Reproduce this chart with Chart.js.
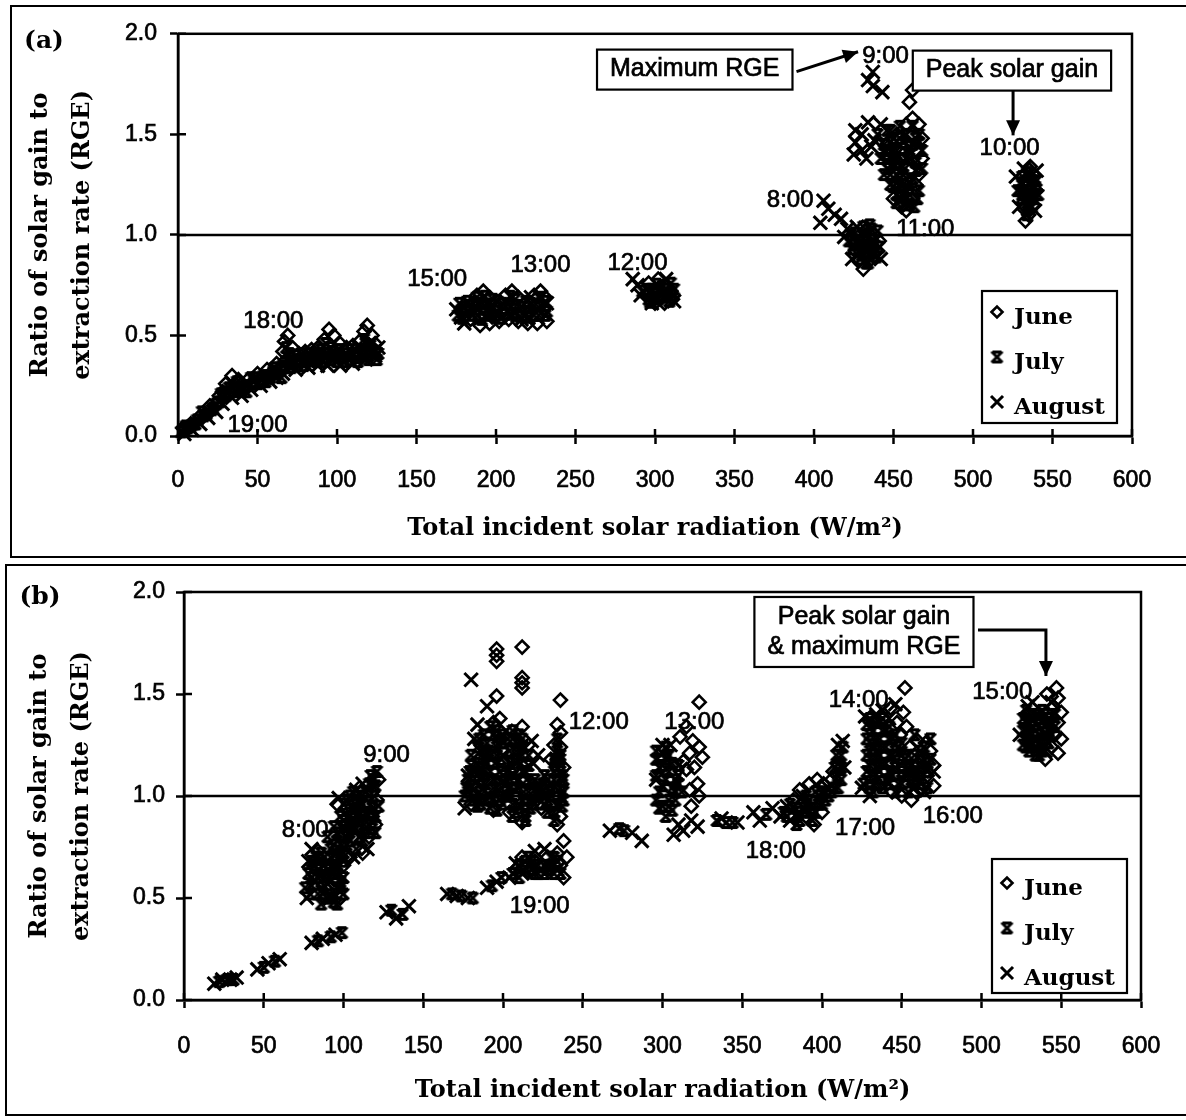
<!DOCTYPE html>
<html lang="en">
<head>
<meta charset="UTF-8">
<title>Ratio of solar gain to extraction rate</title>
<script src="https://cdn.jsdelivr.net/npm/chart.js"></script>
<style>
  body { margin: 0; background: #fff; width: 1186px; height: 1120px; overflow: hidden; position: relative; }
  .panel { position: absolute; border: 2px solid #000; background: #fff; }
  #panelA { left: 10px; top: 5px; }
  #panelB { left: 5px; top: 564px; }
  canvas { display: block; }
</style>
</head>
<body>
<div class="panel" id="panelA"><canvas id="chartA" width="1178" height="549"></canvas></div>
<div class="panel" id="panelB"><canvas id="chartB" width="1184" height="548"></canvas></div>
<script>
// ---- panel (a): [radiation W/m2, RGE] ----
const juneA = [
  [3,0.04],[8,0.06],[14,0.1],[20,0.15],[26,0.2],[30,0.26],[34,0.3],[38,0.28],[44,0.28],[50,0.31],[56,0.33],[62,0.36],
  [66,0.42],[67,0.47],[69,0.5],[72,0.44],[76,0.41],[80,0.42],[84,0.43],[88,0.44],[92,0.48],[95,0.53],[98,0.5],[102,0.46],
  [106,0.44],[110,0.45],[114,0.47],[117,0.52],[119,0.55],[122,0.5],[124,0.46],
  [28,0.22],[36,0.26],[46,0.26],[58,0.31],[68,0.38],[78,0.37],[90,0.4],[100,0.41],[112,0.41],[120,0.43],
  [188,0.7],[192,0.72],[196,0.69],[206,0.7],[210,0.72],[214,0.69],[224,0.7],[228,0.72],[231,0.69],[178,0.62],[184,0.58],
  [190,0.55],[196,0.56],[202,0.57],[208,0.58],[214,0.57],[220,0.56],[226,0.56],[232,0.57],[186,0.66],[200,0.64],[218,0.66],[230,0.63],
  [296,0.76],[302,0.78],[306,0.75],[310,0.72],[300,0.66],[306,0.66],[311,0.68],[294,0.7],[304,0.7],
  [431,0.83],[428,0.87],[436,0.88],[440,0.92],[434,0.94],[426,0.92],[438,1.0],[432,1.02],[441,0.97],[430,0.98],
  [462,1.72],[460,1.66],[458,1.55],[462,1.58],[466,1.55],[468,1.48],[464,1.42],[468,1.38],[466,1.3],[464,1.25],[462,1.18],
  [458,1.12],[455,1.14],[460,1.32],[456,1.4],[452,1.5],[454,1.38],[458,1.28],[454,1.22],[450,1.18],[448,1.35],[462,1.5],[446,1.45],
  [533,1.07],[535,1.1],[538,1.15],[532,1.13],[536,1.2],[540,1.22],[534,1.27],[538,1.3],[536,1.34]
];
const julyA = [
  [2,0.02],[6,0.04],[10,0.06],[16,0.1],[22,0.14],[26,0.17],[30,0.2],[32,0.24],[36,0.22],[40,0.24],[44,0.25],[48,0.27],
  [52,0.28],[56,0.3],[60,0.32],[64,0.33],[68,0.34],[72,0.36],[76,0.38],[80,0.37],[84,0.38],[88,0.38],[92,0.39],[96,0.38],
  [100,0.37],[104,0.39],[108,0.38],[112,0.39],[116,0.4],[120,0.4],[124,0.42],[70,0.41],[86,0.41],[96,0.44],[108,0.43],[118,0.46],
  [4,0.03],[8,0.05],[12,0.08],[18,0.11],[24,0.16],[28,0.19],[34,0.24],[38,0.23],[42,0.25],[46,0.29],[50,0.26],[54,0.3],
  [58,0.29],[62,0.31],[66,0.35],[70,0.37],[74,0.4],[78,0.41],[82,0.39],[86,0.39],[90,0.43],[94,0.41],[98,0.4],[102,0.39],
  [106,0.41],[110,0.4],[114,0.41],[118,0.42],[122,0.43],[68,0.44],[93,0.46],[117,0.48],[120,0.38],[126,0.41],
  [5,0.05],[11,0.06],[15,0.12],[21,0.13],[27,0.21],[31,0.22],[37,0.27],[43,0.22],[49,0.29],[55,0.27],[61,0.34],[65,0.29],
  [71,0.34],[75,0.35],[79,0.35],[83,0.41],[87,0.37],[91,0.37],[97,0.42],[101,0.43],[105,0.37],[109,0.41],[113,0.37],
  [121,0.45],[125,0.38],
  [176,0.6],[180,0.64],[184,0.63],[188,0.6],[192,0.64],[196,0.62],[200,0.6],[204,0.66],[208,0.63],[212,0.61],[216,0.64],
  [220,0.62],[224,0.6],[228,0.65],[232,0.62],[182,0.67],[198,0.68],[212,0.68],[222,0.66],
  [179,0.585],[185,0.6],[191,0.58],[197,0.6],[203,0.585],[209,0.605],[215,0.595],[221,0.59],[227,0.6],[231,0.6],
  [177,0.66],[183,0.65],[189,0.66],[195,0.655],[201,0.67],[207,0.655],[213,0.65],[219,0.67],[225,0.655],[231,0.67],
  [188,0.69],[193,0.695],[209,0.695],[227,0.69],
  [292,0.72],[298,0.73],[304,0.74],[310,0.76],[296,0.68],[302,0.68],[308,0.7],[312,0.73],[300,0.71],
  [295,0.73],[299,0.69],[303,0.72],[307,0.73],[311,0.7],[297,0.665],[305,0.69],[309,0.67],[301,0.755],
  [422,0.97],[426,1.01],[430,0.9],[434,0.86],[438,0.95],[428,0.95],[436,1.03],[424,0.93],[432,0.97],[440,1.02],[433,0.91],
  [423,1.0],[427,0.97],[431,0.94],[435,0.91],[439,0.89],[425,0.95],[429,0.92],[433,1.0],[437,0.98],[441,0.94],[429,0.88],
  [433,0.86],[437,0.92],[435,1.05],[431,1.04],
  [440,1.5],[444,1.45],[448,1.52],[446,1.4],[450,1.35],[444,1.3],[448,1.25],[452,1.2],[456,1.15],[450,1.42],[454,1.48],
  [442,1.38],[446,1.33],[452,1.3],[456,1.25],[460,1.2],[458,1.38],[462,1.45],[466,1.5],
  [446,1.52],[450,1.48],[454,1.54],[458,1.5],[462,1.54],[466,1.46],[444,1.42],[448,1.46],[452,1.42],[456,1.46],[460,1.44],
  [464,1.48],[448,1.38],[452,1.36],[456,1.34],[460,1.38],[464,1.36],[468,1.42],[448,1.3],[452,1.26],[456,1.3],[460,1.26],
  [464,1.32],[468,1.33],[450,1.24],[454,1.28],[458,1.22],[462,1.28],[466,1.22],[465,1.18],[452,1.16],[456,1.19],[460,1.15],
  [458,1.18],[463,1.14],
  [530,1.18],[534,1.16],[538,1.18],[532,1.22],[536,1.25],[530,1.26],[540,1.27],[534,1.31],[541,1.2],[528,1.22],
  [531,1.2],[535,1.22],[539,1.24],[533,1.18],[537,1.14],[535,1.29],[531,1.29],[539,1.2],[533,1.24],[537,1.27],[535,1.13],[534,1.1]
];
const augustA = [
  [4,0.01],[9,0.03],[14,0.06],[19,0.09],[24,0.12],[28,0.16],[34,0.19],[40,0.2],[46,0.23],[52,0.25],[58,0.27],[62,0.29],
  [66,0.31],[74,0.33],[82,0.34],[88,0.35],[94,0.35],[102,0.35],[110,0.36],[118,0.38],[124,0.4],[126,0.44],
  [175,0.63],[178,0.59],[186,0.62],[194,0.59],[202,0.61],[210,0.6],[218,0.6],[226,0.63],[232,0.66],[190,0.67],[206,0.67],
  [222,0.69],[180,0.56],[216,0.58],
  [286,0.78],[289,0.75],[291,0.7],[298,0.66],[307,0.78],[312,0.67],
  [406,1.17],[409,1.13],[404,1.06],[413,1.1],[417,1.08],[421,1.03],[419,0.99],[424,0.88],[442,0.88],[427,1.04],
  [437,1.81],[434,1.77],[437,1.74],[443,1.71],[426,1.52],[430,1.5],[434,1.56],[426,1.46],[430,1.42],[425,1.4],[433,1.38],
  [438,1.47],[442,1.55],[436,1.44],
  [532,1.33],[527,1.29],[539,1.12],[529,1.14],[540,1.32]
];

// ---- panel (b) ----
const juneB = [
  [88,0.5],[94,0.59],[98,0.5],[100,0.66],[104,0.7],[98,0.8],[102,0.94],[106,0.98],[110,1.04],[114,0.95],[118,0.9],
  [121,0.98],[120,0.86],[118,1.02],[122,1.08],[116,0.8],[112,0.72],[96,0.96],[106,0.8],[84,0.73],
  [196,1.72],[196,1.69],[196,1.66],[212,1.73],[212,1.58],[212,1.555],[212,1.53],[196,1.49],[236,1.47],[234,1.35],[236,1.31],
  [232,1.25],[236,1.24],[234,1.18],[238,1.14],[236,1.05],[232,1.04],[230,0.95],[236,0.9],[234,0.86],[212,1.34],[210,1.22],
  [214,1.08],[212,0.87],[208,1.0],[216,1.25],[198,1.38],[194,1.36],[198,1.28],[200,1.04],[204,0.92],[190,1.08],[194,0.93],
  [184,1.04],[180,0.96],[228,1.04],[224,0.94],[220,1.0],[230,1.18],
  [238,0.78],[238,0.6],[234,0.72],[236,0.66],[228,0.7],[230,0.64],[224,0.66],[220,0.68],[216,0.63],[212,0.7],[208,0.64],[240,0.7],
  [323,1.46],[315,1.34],[319,1.27],[323,1.24],[317,1.21],[325,1.19],[320,1.14],[315,1.13],[322,1.06],[317,1.03],[323,1.0],
  [318,0.95],[313,1.17],[311,1.29],
  [386,1.03],[392,1.06],[397,1.08],[401,1.06],[406,1.08],[382,0.98],[390,0.9],[395,0.86],[400,0.92],[407,1.12],[385,0.94],
  [452,1.53],[443,1.43],[451,1.41],[447,1.36],[453,1.34],[449,1.3],[455,1.24],[460,1.27],[465,1.26],[468,1.22],[470,1.15],
  [466,1.1],[470,1.05],[462,1.03],[456,0.98],[450,1.0],[444,1.02],[436,1.05],[448,1.18],[460,1.16],
  [547,1.53],[541,1.5],[548,1.48],[545,1.44],[550,1.41],[540,1.18],[548,1.36],[546,1.3],[550,1.28],[544,1.24],[548,1.21]
];
const julyB = [
  [22,0.09],[27,0.1],[31,0.1],[50,0.16],[57,0.19],[84,0.29],[92,0.31],[99,0.33],[130,0.44],[137,0.42],[168,0.52],
  [174,0.51],[181,0.5],[193,0.56],[199,0.6],
  [76,0.55],[80,0.6],[84,0.52],[88,0.56],[92,0.5],[96,0.55],[80,0.68],[84,0.64],[88,0.7],[92,0.62],[96,0.66],[100,0.6],
  [92,0.74],[96,0.78],[100,0.72],[104,0.78],[94,0.85],[98,0.9],[102,0.86],[106,0.92],[100,0.96],[104,1.0],[108,0.84],
  [112,0.9],[110,0.98],[114,1.02],[116,0.86],[118,0.94],[120,1.05],[117,1.1],[121,1.12],[112,0.78],[108,0.74],[120,0.82],
  [96,0.47],[100,0.52],[86,0.47],[90,0.8],
  [78,0.62],[82,0.66],[86,0.58],[90,0.64],[94,0.52],[98,0.58],[80,0.56],[84,0.6],[88,0.66],[92,0.7],[96,0.62],[100,0.68],
  [94,0.76],[98,0.72],[102,0.76],[106,0.84],[96,0.82],[100,0.88],[104,0.9],[108,0.94],[102,0.98],[106,1.02],[110,0.88],
  [114,0.92],[112,0.96],[116,1.0],[118,0.84],[120,0.9],[116,1.06],[119,1.08],[114,0.82],[110,0.8],[122,0.95],[86,0.72],
  [90,0.5],[94,0.48],
  [79,0.52],[83,0.7],[87,0.52],[91,0.6],[95,0.64],[99,0.56],[97,0.7],[101,0.8],[105,0.86],[109,0.9],[113,0.86],[117,0.92],
  [119,1.0],[107,0.96],[111,1.0],[103,0.82],[99,0.76],[93,0.66],
  [176,1.0],[180,1.05],[184,0.98],[188,1.02],[192,0.94],[196,1.0],[200,0.96],[204,1.04],[208,0.92],[212,0.98],[216,1.02],
  [220,0.96],[224,1.04],[228,0.98],[232,0.92],[236,1.0],[238,1.08],[180,1.15],[184,1.1],[188,1.18],[192,1.12],[196,1.2],
  [200,1.1],[204,1.16],[208,1.22],[212,1.12],[216,1.15],[220,1.08],[232,1.12],[236,1.18],[190,1.26],[194,1.3],[206,1.28],
  [210,1.3],[234,1.22],[186,1.08],[214,0.9],[226,1.1],
  [178,1.02],[182,1.0],[186,0.96],[190,0.98],[194,1.04],[198,0.98],[202,1.0],[206,0.96],[210,0.94],[214,0.96],[218,0.98],
  [222,1.0],[226,0.96],[230,1.0],[234,0.96],[238,0.98],[178,1.08],[182,1.12],[186,1.14],[190,1.16],[194,1.08],[198,1.12],
  [202,1.08],[206,1.14],[210,1.08],[214,1.12],[218,1.06],[222,1.04],[228,1.08],[232,1.08],[236,1.12],[238,1.02],
  [180,1.2],[184,1.24],[188,1.22],[192,1.2],[196,1.24],[200,1.26],[204,1.22],[208,1.18],[212,1.2],[216,1.2],[232,1.18],
  [236,1.2],[188,1.3],[192,1.34],[196,1.32],[200,1.3],[206,1.32],[212,1.28],[234,1.28],
  [184,0.95],[196,0.93],[206,0.9],[214,0.88],[228,0.92],[232,0.88],
  [177,1.04],[181,0.98],[185,1.02],[189,1.06],[193,0.98],[197,1.06],[201,1.02],[205,1.0],[209,1.04],[213,1.02],[217,0.94],
  [221,1.02],[225,1.06],[229,1.02],[233,1.04],[237,0.95],[179,1.12],[183,1.16],[187,1.1],[191,1.22],[195,1.16],[199,1.18],
  [203,1.12],[207,1.06],[211,1.16],[215,1.08],[233,1.15],[237,1.1],[185,1.28],[189,1.2],[197,1.26],[203,1.28],[209,1.26],
  [213,1.24],[235,1.2],
  [206,0.62],[210,0.66],[214,0.68],[218,0.64],[222,0.62],[226,0.66],[232,0.62],[216,0.7],[230,0.7],[210,0.6],
  [214,0.65],[218,0.68],[222,0.66],[226,0.62],[230,0.66],[234,0.68],[228,0.64],[220,0.62],[236,0.62],[232,0.7],
  [273,0.84],[276,0.83],
  [296,1.1],[300,1.05],[304,1.12],[308,1.02],[296,0.98],[300,0.95],[304,0.98],[308,1.08],[300,1.15],[304,1.2],[310,1.15],
  [296,1.18],[306,0.93],[312,1.02],[302,0.9],
  [298,1.02],[302,1.08],[306,1.04],[298,1.14],[302,1.18],[306,1.16],[310,1.1],[298,0.94],[304,0.95],[308,0.98],[310,1.06],
  [296,1.22],[302,1.24],
  [334,0.88],[340,0.87],[344,0.87],[365,0.91],
  [376,0.92],[380,0.96],[384,0.9],[388,0.94],[392,0.98],[396,0.92],[400,0.96],[404,1.0],[408,1.04],[410,1.1],[410,1.16],
  [412,1.2],[408,1.14],[386,0.88],[394,0.88],[402,1.02],[398,1.0],[412,1.08],
  [378,0.9],[382,0.94],[386,0.92],[390,0.96],[394,0.94],[398,0.96],[402,0.98],[406,1.02],[390,1.0],[396,1.02],[400,1.02],
  [384,0.86],[392,0.92],[410,1.04],[412,1.14],[409,1.2],[413,1.24],
  [426,1.06],[428,1.12],[428,1.2],[428,1.28],[428,1.35],[432,1.02],[432,1.1],[432,1.18],[432,1.25],[432,1.32],[436,1.12],
  [436,1.2],[436,1.28],[436,1.36],[440,1.08],[440,1.16],[440,1.24],[440,1.32],[444,1.1],[444,1.2],[444,1.28],[448,1.06],
  [448,1.24],[452,1.1],[452,1.18],[456,1.08],[456,1.15],[460,1.1],[464,1.18],[458,1.3],[462,1.22],[466,1.16],[468,1.28],
  [430,1.04],[434,1.06],[438,1.04],[442,1.06],[446,1.02],[450,1.06],[454,1.02],[458,1.08],[462,1.06],[466,1.04],[430,1.15],
  [434,1.14],[438,1.16],[442,1.12],[446,1.14],[450,1.12],[454,1.14],[458,1.12],[462,1.14],[466,1.12],[468,1.18],[430,1.22],
  [434,1.22],[438,1.24],[442,1.2],[446,1.22],[450,1.2],[454,1.2],[458,1.2],[464,1.24],[430,1.3],[434,1.28],[438,1.32],
  [442,1.28],[446,1.3],[450,1.26],[430,1.38],[434,1.36],[438,1.38],[442,1.34],
  [526,1.25],[526,1.32],[526,1.38],[530,1.22],[530,1.3],[530,1.36],[534,1.24],[534,1.32],[534,1.4],[538,1.28],[538,1.36],
  [538,1.42],[542,1.32],[542,1.38],[528,1.42],[536,1.2],[542,1.26],
  [528,1.28],[532,1.26],[536,1.3],[540,1.34],[544,1.36],[528,1.36],[532,1.34],[536,1.38],[540,1.4],[546,1.4],[532,1.4],
  [536,1.26],[540,1.28],[544,1.3],[528,1.24],[546,1.34],[538,1.22],[534,1.2]
];
const augustB = [
  [19,0.08],[24,0.1],[29,0.1],[33,0.11],[46,0.15],[53,0.18],[60,0.2],[80,0.28],[87,0.3],[95,0.32],[127,0.43],[133,0.4],
  [141,0.46],[165,0.52],[171,0.51],[178,0.5],[190,0.55],[196,0.58],
  [77,0.5],[78,0.68],[80,0.74],[82,0.58],[86,0.62],[90,0.57],[90,0.68],[96,0.72],[100,0.84],[106,0.7],[108,1.03],[112,1.06],
  [97,0.99],[103,0.9],[115,0.74],
  [180,1.57],[184,1.35],[190,1.44],[186,1.22],[178,1.1],[176,0.94],[182,1.28],[200,1.2],[218,1.27],[222,1.2],[219,1.16],
  [226,1.0],[206,1.1],[192,1.0],[202,1.32],
  [204,0.6],[208,0.67],[220,0.73],[226,0.74],[234,0.64],[212,0.62],
  [267,0.83],[281,0.82],[287,0.78],
  [300,1.25],[300,1.21],[296,1.08],[307,0.81],[313,0.83],[322,0.85],[310,0.86],[305,1.25],[318,0.88],
  [347,0.87],[337,0.89],[357,0.92],[361,0.88],[369,0.94],
  [410,1.25],[413,1.27],[378,0.95],[374,0.9],[388,1.0],[404,1.04],[414,1.14],[380,0.88],
  [425,1.04],[427,1.39],[430,1.0],[442,1.38],[438,1.42],[446,1.45],[458,1.04],[464,1.02],[470,1.12],[434,1.4],
  [529,1.44],[532,1.46],[524,1.3],[540,1.22],[544,1.46]
];

// hour labels: [text, radiation, RGE]
const hoursA = [
  ['19:00',50,0.055],['18:00',60,0.57],['15:00',163,0.78],['13:00',228,0.85],['12:00',289,0.86],
  ['8:00',385,1.17],['9:00',445,1.89],['11:00',470,1.025],['10:00',523,1.43]
];
const hoursB = [
  ['8:00',76,0.83],['9:00',127,1.2],['12:00',260,1.36],['13:00',320,1.36],['19:00',223,0.46],
  ['18:00',371,0.73],['17:00',427,0.84],['16:00',482,0.9],['14:00',423,1.47],['15:00',513,1.51]
];

// callout boxes and arrows (data coordinates)
const calloutsA = [
  { lines: ['Maximum RGE'], x: 325, y: 1.822 },
  { lines: ['Peak solar gain'], x: 524.5, y: 1.817 }
];
const arrowsA = [
  [[389, 1.812], [427.7, 1.911]],
  [[525.2, 1.718], [525.2, 1.495]]
];
const calloutsB = [
  { lines: ['Peak solar gain', '& maximum RGE'], x: 426.3, y: 1.804 }
];
const arrowsB = [
  [[497.8, 1.814], [540.4, 1.814], [540.4, 1.588]]
];

const INK = '#000';
const SANS = '"Liberation Sans", Arial, sans-serif';
const SERIF = '"DejaVu Serif", serif';

// July marker: a cross with bars top and bottom
function julyMark() {
  const c = document.createElement('canvas');
  c.width = 15; c.height = 15;
  const g = c.getContext('2d');
  g.strokeStyle = INK;
  g.lineWidth = 3;
  g.beginPath();
  g.moveTo(2, 2); g.lineTo(13, 13);
  g.moveTo(13, 2); g.lineTo(2, 13);
  g.moveTo(3, 2.5); g.lineTo(12, 2.5);
  g.moveTo(3, 12.5); g.lineTo(12, 12.5);
  g.stroke();
  return c;
}
const julyStyle = julyMark();

function toXY(pairs) {
  return pairs.map(p => ({ x: p[0], y: p[1] }));
}

function series(label, pairs, style, radius, width) {
  return {
    label: label,
    data: toXY(pairs),
    pointStyle: style,
    pointRadius: radius,
    pointHoverRadius: radius,
    pointBorderWidth: width,
    pointBorderColor: INK,
    pointBackgroundColor: 'rgba(0,0,0,0)',
    borderColor: INK,
    backgroundColor: 'rgba(0,0,0,0)',
    clip: 12
  };
}

function arrowHead(ctx, x0, y0, x1, y1) {
  const ang = Math.atan2(y1 - y0, x1 - x0);
  const len = 15, half = 7;
  ctx.beginPath();
  ctx.moveTo(x1, y1);
  ctx.lineTo(x1 - len * Math.cos(ang) + half * Math.sin(ang), y1 - len * Math.sin(ang) - half * Math.cos(ang));
  ctx.lineTo(x1 - len * Math.cos(ang) - half * Math.sin(ang), y1 - len * Math.sin(ang) + half * Math.cos(ang));
  ctx.closePath();
  ctx.fill();
}

// filled text with a thin outline so it reads as heavy as the printed labels
function inkText(ctx, s, x, y) {
  ctx.fillText(s, x, y);
  ctx.strokeText(s, x, y);
}

// frame, inner tick halves, hour labels, callouts, legend and panel tag
const decor = {
  id: 'decor',
  beforeDatasetsDraw(chart) {
    const { ctx, chartArea: a, scales: { x, y } } = chart;
    ctx.save();
    ctx.strokeStyle = INK;
    ctx.lineWidth = 2.5;
    ctx.strokeRect(a.left, a.top, a.right - a.left, a.bottom - a.top);
    ctx.beginPath();
    x.ticks.forEach(t => {
      const px = x.getPixelForValue(t.value);
      ctx.moveTo(px, a.bottom); ctx.lineTo(px, a.bottom - 7);
    });
    y.ticks.forEach(t => {
      const py = y.getPixelForValue(t.value);
      ctx.moveTo(a.left, py); ctx.lineTo(a.left + 8, py);
    });
    ctx.stroke();
    ctx.restore();
  },
  afterDraw(chart, args, opts) {
    const { ctx, chartArea: a, scales: { x, y } } = chart;
    ctx.save();
    ctx.fillStyle = INK;
    ctx.strokeStyle = INK;

    // hour labels
    ctx.font = '24px ' + SANS;
    ctx.textAlign = 'center';
    ctx.textBaseline = 'middle';
    ctx.lineWidth = 0.7;
    opts.hours.forEach(h => inkText(ctx, h[0], x.getPixelForValue(h[1]), y.getPixelForValue(h[2])));

    // arrows
    ctx.lineWidth = 3;
    opts.arrows.forEach(path => {
      const pts = path.map(p => [x.getPixelForValue(p[0]), y.getPixelForValue(p[1])]);
      ctx.beginPath();
      ctx.moveTo(pts[0][0], pts[0][1]);
      for (let i = 1; i < pts.length; i++) ctx.lineTo(pts[i][0], pts[i][1]);
      ctx.stroke();
      const n = pts.length;
      arrowHead(ctx, pts[n - 2][0], pts[n - 2][1], pts[n - 1][0], pts[n - 1][1]);
    });

    // callout boxes
    ctx.font = '25px ' + SANS;
    opts.callouts.forEach(c => {
      const lh = 30;
      const w = Math.max(...c.lines.map(s => ctx.measureText(s).width)) + 26;
      const h = c.lines.length * lh + 10;
      const cx = x.getPixelForValue(c.x), cy = y.getPixelForValue(c.y);
      ctx.fillStyle = '#fff';
      ctx.fillRect(cx - w / 2, cy - h / 2, w, h);
      ctx.lineWidth = 2.2;
      ctx.strokeRect(cx - w / 2, cy - h / 2, w, h);
      ctx.fillStyle = INK;
      ctx.lineWidth = 0.7;
      c.lines.forEach((s, i) => inkText(ctx, s, cx, cy - h / 2 + 5 + lh * (i + 0.5)));
    });

    // legend
    const L = opts.legend;
    const lx = a.right - L.right - L.width, ly = a.bottom - L.bottom - L.height;
    ctx.fillStyle = '#fff';
    ctx.fillRect(lx, ly, L.width, L.height);
    ctx.lineWidth = 2.2;
    ctx.strokeRect(lx, ly, L.width, L.height);
    ctx.font = 'bold 23px ' + SERIF;
    ctx.textAlign = 'left';
    ctx.textBaseline = 'middle';
    chart.data.datasets.slice(0, 3).forEach((ds, i) => {
      const ry = ly + L.first + i * L.step;
      ctx.fillStyle = 'rgba(0,0,0,0)';
      ctx.strokeStyle = INK;
      ctx.lineWidth = ds.pointBorderWidth;
      Chart.helpers.drawPoint(ctx, {
        pointStyle: ds.pointStyle, radius: ds.pointRadius - 1, borderWidth: ds.pointBorderWidth, rotation: 0
      }, lx + 15, ry - 4);
      ctx.fillStyle = INK;
      ctx.fillText(ds.label, lx + 32, ry + 2);
    });

    // panel tag
    ctx.font = 'bold 25px ' + SERIF;
    ctx.textAlign = 'center';
    ctx.fillText(opts.tag.text, opts.tag.x, opts.tag.y);
    ctx.restore();
  }
};

function buildPanel(id, p) {
  const canvas = document.getElementById(id);
  const W = canvas.width, H = canvas.height;
  return new Chart(canvas, {
    type: 'scatter',
    data: {
      datasets: [
        series('June', p.june, 'rectRot', 6.5, 2.6),
        series('July', p.july, julyStyle, 7, 3),
        series('August', p.august, 'crossRot', 9.5, 3),
        {
          label: 'RGE = 1',
          data: [{ x: 0, y: 1 }, { x: 600, y: 1 }],
          showLine: true,
          pointRadius: 0,
          borderColor: INK,
          borderWidth: 2.5
        }
      ]
    },
    options: {
      responsive: false,
      animation: false,
      events: [],
      layout: { padding: { top: p.area.top, right: W - p.area.right, left: 0, bottom: 0 } },
      plugins: {
        legend: { display: false },
        tooltip: { enabled: false },
        decor: { hours: p.hours, callouts: p.callouts, arrows: p.arrows, legend: p.legend, tag: p.tag }
      },
      scales: {
        x: {
          type: 'linear',
          min: 0, max: 600,
          afterFit: s => { s.height = H - p.area.bottom; },
          border: { display: true, color: INK, width: 2.5 },
          grid: { drawOnChartArea: false, drawTicks: true, tickLength: 8, tickWidth: 2.5, tickColor: INK },
          ticks: {
            stepSize: 50, autoSkip: false, maxRotation: 0, color: INK, padding: p.xPad,
            textStrokeColor: INK, textStrokeWidth: 0.7,
            font: { family: SANS, size: 23 }
          },
          title: {
            display: true,
            text: 'Total incident solar radiation (W/m²)',
            color: INK,
            font: { family: SERIF, size: 24, weight: 'bold' },
            padding: { bottom: p.xTitlePad, top: 0 }
          }
        },
        y: {
          type: 'linear',
          min: 0, max: 2,
          afterFit: s => { s.width = p.area.left; },
          border: { display: true, color: INK, width: 2.5 },
          grid: { drawOnChartArea: false, drawTicks: true, tickLength: 8, tickWidth: 2.5, tickColor: INK },
          ticks: {
            stepSize: 0.5, color: INK, padding: p.yPad,
            textStrokeColor: INK, textStrokeWidth: 0.7,
            font: { family: SANS, size: 23 },
            callback: v => v.toFixed(1)
          },
          title: {
            display: true,
            text: ['Ratio of solar gain to', 'extraction rate (RGE)'],
            color: INK,
            font: { family: SERIF, size: 24, weight: 'bold', lineHeight: 1.75 },
            padding: { top: p.yTitlePad, bottom: 0 }
          }
        }
      }
    },
    plugins: [decor]
  });
}

buildPanel('chartA', {
  june: juneA, july: julyA, august: augustA,
  hours: hoursA, callouts: calloutsA, arrows: arrowsA,
  area: { left: 166, right: 1120, top: 25, bottom: 429 },
  xPad: 23, yPad: 13, xTitlePad: 13, yTitlePad: 8,
  legend: { right: 15, bottom: 13, width: 135, height: 132, first: 25, step: 45 },
  tag: { text: '(a)', x: 32, y: 34 }
});

buildPanel('chartB', {
  june: juneB, july: julyB, august: augustB,
  hours: hoursB, callouts: calloutsB, arrows: arrowsB,
  area: { left: 177, right: 1134, top: 26, bottom: 434 },
  xPad: 25, yPad: 11, xTitlePad: 9, yTitlePad: 12,
  legend: { right: 14, bottom: 7, width: 135, height: 134, first: 28, step: 45 },
  tag: { text: '(b)', x: 33, y: 31 }
});
</script>
</body>
</html>
